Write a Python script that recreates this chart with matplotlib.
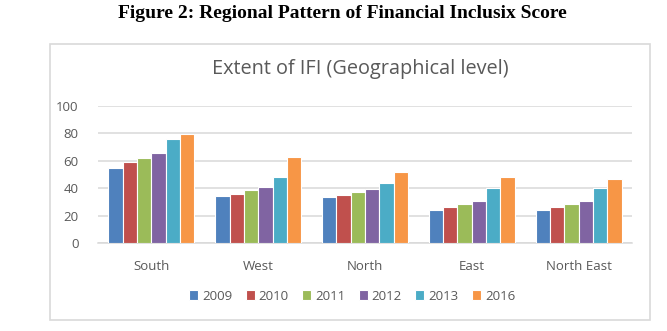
import matplotlib.pyplot as plt
from matplotlib.patches import Rectangle
import numpy as np

regions = ["South", "West", "North", "East", "North East"]
years = ["2009", "2010", "2011", "2012", "2013", "2016"]
v2009 = [55, 34, 33.4, 24.4, 24]
v2010 = [58.8, 35.8, 35, 26.4, 26.4]
v2011 = [62.2, 38.5, 37.2, 28.8, 28.5]
v2012 = [66, 41, 39.4, 30.7, 30.7]
v2013 = [76.2, 48.1, 43.8, 40.1, 39.9]
v2016 = [79.8, 62.6, 51.8, 48.1, 46.4]
colors = ["#4F81BD", "#C0504D", "#9BBB59", "#8064A2", "#4BACC6", "#F79646"]

W, H = 667, 331
fig = plt.figure(figsize=(W / 100, H / 100), dpi=100)
fig.patch.set_facecolor("white")

# outer chart frame
fig.patches.append(Rectangle((50 / W, 1 - 320 / H), 600 / W, 276 / H,
                             transform=fig.transFigure, fill=False,
                             edgecolor="#D9D9D9", linewidth=1.2))

fig.text(342 / W, 1 - 14 / H, "Figure 2: Regional Pattern of Financial Inclusix Score",
         ha="center", va="center", fontsize=14, fontweight="bold",
         family="Liberation Serif")
fig.text(360 / W, 1 - 69 / H, "Extent of IFI (Geographical level)",
         ha="center", va="center", fontsize=14.3, color="#595959", family="Open Sans")

ax = fig.add_axes([98 / W, 1 - 243 / H, (632 - 98) / W, (243 - 106) / H])
x = np.arange(len(regions))
bw = 0.134
series = [v2009, v2010, v2011, v2012, v2013, v2016]
for i, (vals, c, yr) in enumerate(zip(series, colors, years)):
    ax.bar(x + (i - 2.5) * bw, vals, bw, color=c, edgecolor="white",
           linewidth=0.8, label=yr, zorder=3)

ax.set_xlim(-0.5, len(regions) - 0.5)
ax.set_ylim(0, 100)
ax.set_yticks(range(0, 101, 20))
ax.yaxis.grid(True, color="#D9D9D9", linewidth=1.1, zorder=0)
for s in ["top", "right", "left"]:
    ax.spines[s].set_visible(False)
ax.spines["bottom"].set_color("#D9D9D9")
ax.spines["bottom"].set_linewidth(1.1)
ax.tick_params(length=0, labelsize=9.5, labelcolor="#595959")
ax.tick_params(axis="y", pad=14)
ax.tick_params(axis="x", pad=12)
ax.set_xticks(x)
ax.set_xticklabels(regions, family="Open Sans")
for t in ax.get_yticklabels():
    t.set_family("Open Sans")

fig.legend(loc="center", bbox_to_anchor=(352 / W, 1 - 296 / H), ncol=6,
           frameon=False, handlelength=0.7, handleheight=0.7,
           handletextpad=0.3, columnspacing=1.0, labelcolor="#595959",
           prop={"family": "Open Sans", "size": 9.5})

fig.savefig("out.png", dpi=100)
